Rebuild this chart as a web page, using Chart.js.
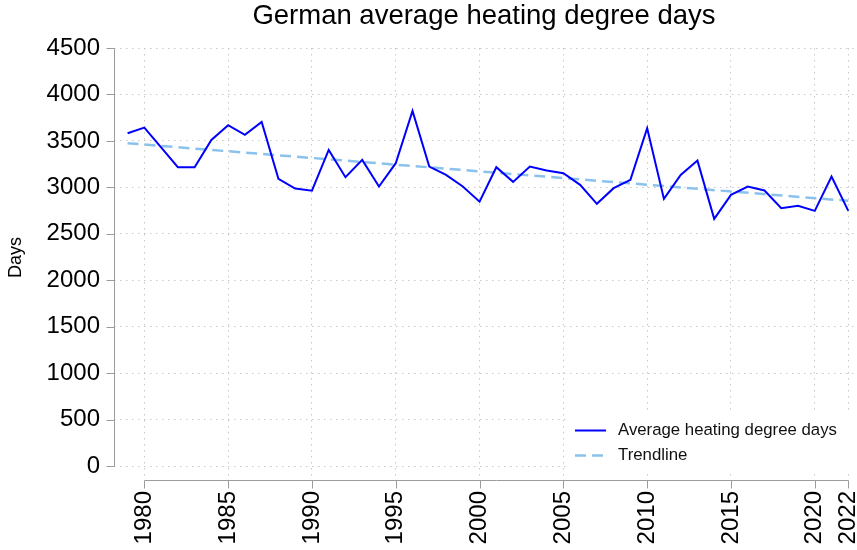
<!DOCTYPE html>
<html>
<head>
<meta charset="utf-8">
<script src="https://cdn.jsdelivr.net/npm/chart.js@4.4.1/dist/chart.umd.min.js"></script>
<style>
  html, body { margin: 0; padding: 0; background: #fff; }
  #wrap { width: 857px; height: 550px; position: relative; }
</style>
</head>
<body>
<div id="wrap"><canvas id="chart"></canvas></div>
<script>
const years = [1979, 1980, 1981, 1982, 1983, 1984, 1985, 1986, 1987, 1988,
  1989, 1990, 1991, 1992, 1993, 1994, 1995, 1996, 1997, 1998,
  1999, 2000, 2001, 2002, 2003, 2004, 2005, 2006, 2007, 2008,
  2009, 2010, 2011, 2012, 2013, 2014, 2015, 2016, 2017, 2018,
  2019, 2020, 2021, 2022];
const heatingDays = [3583, 3643, 3430, 3217, 3217, 3511, 3669, 3565, 3704, 3091,
  2987, 2964, 3403, 3109, 3296, 3009, 3260, 3823, 3224, 3134,
  3009, 2846, 3217, 3059, 3224, 3181, 3153, 3027, 2823, 2991,
  3081, 3637, 2876, 3134, 3288, 2661, 2919, 3009, 2966, 2776,
  2801, 2747, 3116, 2747];
const trendYears = [1979, 2022];
const trendValues = [3475, 2855];
const xTicks = [1980, 1985, 1990, 1995, 2000, 2005, 2010, 2015, 2020, 2022];
const yTicks = [0, 500, 1000, 1500, 2000, 2500, 3000, 3500, 4000, 4500];

const FONT = "'Liberation Sans', Arial, Helvetica, sans-serif";
const AXIS_GRAY = '#9c9c9c';

// Stata-style axes: y line stops at 0, x line only spans first..last tick
const stataAxes = {
  id: 'stataAxes',
  afterDraw(chart) {
    const { ctx, chartArea, scales: { x, y } } = chart;
    ctx.save();

    // legend box inside the plot, bottom right
    const bx = 566, by = 411, bw = 289, bh = 60;
    ctx.fillStyle = '#fff';
    ctx.fillRect(bx, by, bw, bh);
    chart.data.datasets.forEach((ds, i) => {
      const ly = 430.5 + i * 25;
      ctx.beginPath();
      ctx.setLineDash(ds.borderDash || []);
      ctx.strokeStyle = ds.borderColor;
      ctx.lineWidth = ds.borderWidth;
      ctx.moveTo(575, ly);
      ctx.lineTo(606, ly);
      ctx.stroke();
      ctx.setLineDash([]);
      ctx.fillStyle = '#111';
      ctx.font = '16.8px ' + FONT;
      ctx.textAlign = 'left';
      ctx.textBaseline = 'middle';
      ctx.fillText(ds.label, 618, ly);
    });

    ctx.strokeStyle = AXIS_GRAY;
    ctx.lineWidth = 1;
    ctx.beginPath();
    const ax = Math.round(chartArea.left) + 0.5;
    const yTop = Math.round(y.getPixelForValue(yTicks[yTicks.length - 1])) + 0.5;
    const yZero = Math.round(y.getPixelForValue(0)) + 0.5;
    ctx.moveTo(ax, yTop);
    ctx.lineTo(ax, yZero);
    yTicks.forEach(v => {
      const py = Math.round(y.getPixelForValue(v)) + 0.5;
      ctx.moveTo(ax - 8, py);
      ctx.lineTo(ax, py);
    });
    const ay = Math.round(chartArea.bottom) + 0.5;
    ctx.moveTo(Math.round(x.getPixelForValue(xTicks[0])) + 0.5, ay);
    ctx.lineTo(Math.round(x.getPixelForValue(xTicks[xTicks.length - 1])) + 0.5, ay);
    xTicks.forEach(v => {
      const px = Math.round(x.getPixelForValue(v)) + 0.5;
      ctx.moveTo(px, ay);
      ctx.lineTo(px, ay + 8);
    });
    ctx.stroke();

    // y axis title
    ctx.fillStyle = '#000';
    ctx.font = '18px ' + FONT;
    ctx.textAlign = 'center';
    ctx.textBaseline = 'middle';
    ctx.translate(16, (yTop + yZero) / 2);
    ctx.rotate(-Math.PI / 2);
    ctx.fillText('Days', 0, 0);
    ctx.restore();
  }
};

new Chart(document.getElementById('chart'), {
  type: 'line',
  data: {
    datasets: [
      {
        label: 'Average heating degree days',
        data: years.map((yr, i) => ({ x: yr, y: heatingDays[i] })),
        borderColor: '#0000ff',
        borderWidth: 2,
        pointRadius: 0,
        tension: 0,
        fill: false
      },
      {
        label: 'Trendline',
        data: trendYears.map((yr, i) => ({ x: yr, y: trendValues[i] })),
        borderColor: '#8ac2ec',
        borderWidth: 2.5,
        borderDash: [11, 6],
        pointRadius: 0,
        tension: 0,
        fill: false
      }
    ]
  },
  options: {
    responsive: true,
    maintainAspectRatio: false,
    animation: false,
    devicePixelRatio: 1,
    layout: { padding: { top: 0, right: 3, bottom: 0, left: 0 } },
    scales: {
      x: {
        type: 'linear',
        min: 1978.19,
        max: 2022.34,
        afterBuildTicks: s => { s.ticks = xTicks.map(v => ({ value: v })); },
        afterFit: s => { s.height = 70; s.paddingLeft = 0; s.paddingRight = 0; },
        ticks: {
          autoSkip: false,
          minRotation: 90,
          maxRotation: 90,
          padding: 11,
          color: '#000',
          font: { family: FONT, size: 24 },
          callback: v => String(v)
        },
        grid: { color: '#c8c8c8', lineWidth: 1, drawTicks: false },
        border: { display: false, dash: [1.5, 4.5] }
      },
      y: {
        min: -150,
        max: 4500,
        afterBuildTicks: s => { s.ticks = yTicks.map(v => ({ value: v })); },
        afterFit: s => { s.width = 114; },
        ticks: {
          padding: 14,
          color: '#000',
          font: { family: FONT, size: 24 },
          callback: v => String(v)
        },
        grid: { color: '#c8c8c8', lineWidth: 1, drawTicks: false },
        border: { display: false, dash: [1.5, 4.5] }
      }
    },
    plugins: {
      legend: { display: false },
      tooltip: { enabled: false },
      title: {
        display: true,
        fullSize: false,
        text: 'German average heating degree days',
        color: '#000',
        font: { family: FONT, size: 27.5, weight: 'normal', lineHeight: 1 },
        padding: { top: 3, bottom: 17.5 }
      }
    }
  },
  plugins: [stataAxes]
});
</script>
</body>
</html>
